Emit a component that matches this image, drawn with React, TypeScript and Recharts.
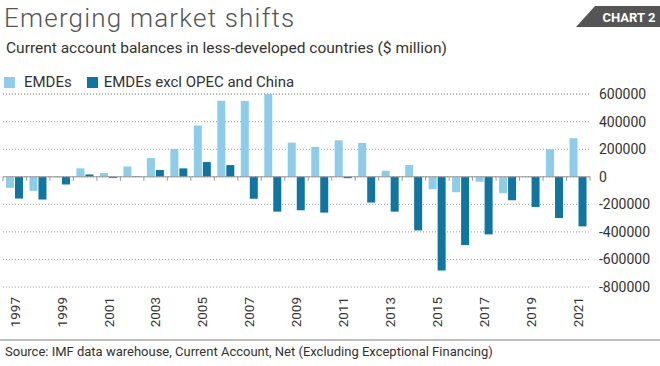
import { BarChart, Bar, XAxis, YAxis, CartesianGrid, ReferenceLine } from "recharts";

// values, $ million
const years = [
  "1997", "1998", "1999", "2000", "2001", "2002", "2003", "2004", "2005",
  "2006", "2007", "2008", "2009", "2010", "2011", "2012", "2013", "2014",
  "2015", "2016", "2017", "2018", "2019", "2020", "2021",
];
const emdes = [
  -80000, -102000, -5000, 61000, 27000, 75000, 136000, 202000, 372000,
  552000, 550000, 601000, 248000, 217000, 265000, 246000, 44000, 85000,
  -90000, -112000, -36000, -119000, -3000, 200000, 280000,
];
const exclOpecChina = [
  -158000, -165000, -56000, 17000, -8000, 4000, 49000, 61000, 107000,
  85000, -160000, -253000, -243000, -260000, -10000, -187000, -253000, -389000,
  -681000, -496000, -418000, -170000, -219000, -299000, -360000,
];
const yTicks = [-800000, -600000, -400000, -200000, 0, 200000, 400000, 600000];

const data = years.map((year, i) => ({
  year,
  emdes: emdes[i],
  excl: exclOpecChina[i],
}));

const LIGHT = "#8dcdea";
const DARK = "#0e76a0";
const FONT = "Roboto, sans-serif";

function YearTick({ x, y, payload }: any) {
  return (
    <g transform={`translate(${x},${y})`}>
      <text
        transform="rotate(-90)"
        textAnchor="end"
        dy="0.36em"
        fontSize={13.5}
        fill="#333"
        fontFamily={FONT}
      >
        {payload.value}
      </text>
    </g>
  );
}

// zero line with small ticks at every category boundary
function ZeroLine(props: any) {
  const { x1, x2, y1 } = props;
  const step = (x2 - x1) / years.length;
  const marks = [];
  for (let i = 0; i <= years.length; i++) {
    const tx = x1 + i * step;
    marks.push(<line key={i} x1={tx} x2={tx} y1={y1} y2={y1 + 4} stroke="#999" strokeWidth={1} />);
  }
  return (
    <g>
      <line x1={x1} x2={x2} y1={y1} y2={y1} stroke="#999" strokeWidth={1} />
      {marks}
    </g>
  );
}

export default function App() {
  return (
    <div
      style={{
        position: "absolute",
        left: 0,
        top: 0,
        width: 660,
        height: 366,
        background: "#fff",
        fontFamily: FONT,
        overflow: "hidden",
      }}
    >
      <div style={{ position: "absolute", left: 4, top: 2, fontSize: 26, fontWeight: 300, color: "#555", letterSpacing: 1.2, lineHeight: "32px", whiteSpace: "nowrap" }}>
        Emerging market shifts
      </div>
      <svg style={{ position: "absolute", left: 576, top: 6 }} width={84} height={21}>
        <polygon points="19,0 84,0 84,21 0,21" fill="#555" />
        <text x={53} y={15.5} textAnchor="middle" fill="#fff" fontSize={13} fontWeight={700} fontFamily={FONT}>
          CHART 2
        </text>
      </svg>
      <div style={{ position: "absolute", left: 6, top: 38, fontSize: 15.5, color: "#333", lineHeight: "20px", whiteSpace: "nowrap" }}>
        Current account balances in less-developed countries ($ million)
      </div>
      <div style={{ position: "absolute", left: 4, top: 73, display: "flex", alignItems: "center", fontSize: 15, color: "#333", lineHeight: "18px", whiteSpace: "nowrap" }}>
        <span style={{ width: 11, height: 11, background: LIGHT, display: "inline-block", marginRight: 9 }} />
        <span style={{ marginRight: 15 }}>EMDEs</span>
        <span style={{ width: 11, height: 11, background: DARK, display: "inline-block", marginRight: 6 }} />
        <span>EMDEs excl OPEC and China</span>
      </div>

      <div style={{ position: "absolute", left: 0, top: 0 }}>
        <BarChart
          width={660}
          height={366}
          data={data}
          margin={{ top: 94, right: 0, left: 3, bottom: 29 }}
          barCategoryGap={3}
          barGap={1}
        >
          <CartesianGrid vertical={false} stroke="#9a9a9a" strokeDasharray="1 2" />
          <XAxis
            dataKey="year"
            interval={1}
            height={50}
            tickLine={false}
            axisLine={false}
            tickSize={0}
            tickMargin={10}
            tick={<YearTick />}
          />
          <YAxis
            orientation="right"
            width={70}
            domain={[-800000, 600000]}
            ticks={yTicks}
            tickLine={false}
            axisLine={false}
            tickSize={0}
            tickMargin={9}
            tick={{ fontSize: 14, fill: "#333", fontFamily: FONT, textAnchor: "start" }}
          />
          <ReferenceLine y={0} shape={<ZeroLine />} />
          <Bar dataKey="emdes" name="EMDEs" fill={LIGHT} isAnimationActive={false} />
          <Bar dataKey="excl" name="EMDEs excl OPEC and China" fill={DARK} isAnimationActive={false} />
        </BarChart>
      </div>

      <div style={{ position: "absolute", left: 0, top: 339, width: 660, height: 2, background: "#bdbdbd" }} />
      <div style={{ position: "absolute", left: 5, top: 343, fontSize: 13, color: "#333", lineHeight: "18px", whiteSpace: "nowrap" }}>
        Source: IMF data warehouse, Current Account, Net (Excluding Exceptional Financing)
      </div>
    </div>
  );
}
